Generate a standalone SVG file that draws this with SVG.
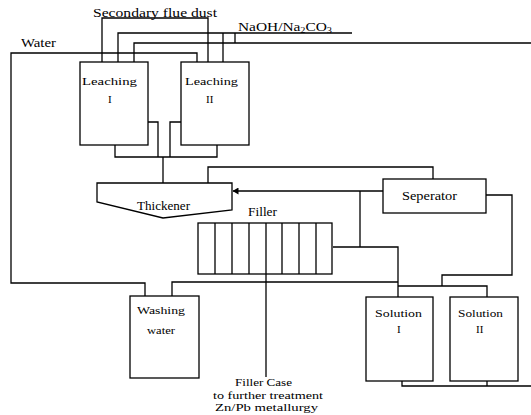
<svg xmlns="http://www.w3.org/2000/svg" width="531" height="415" viewBox="0 0 531 415">
<defs>
<marker id="arr" markerWidth="6" markerHeight="7" refX="5.5" refY="3.5" orient="auto" markerUnits="userSpaceOnUse">
<path d="M0,0 L6,3.5 L0,7 z" fill="#000"/>
</marker>
</defs>
<style>
.box{fill:#fff;stroke:#000;stroke-width:1.3}
.ln{fill:none;stroke:#000;stroke-width:1.3}
text{font-family:"Liberation Serif","Times New Roman",serif;fill:#000}
.s11{font-size:11px}
.s12{font-size:12px}
</style>
<rect width="531" height="415" fill="#fff"/>
<g id="connectors">
<path class="ln" d="M102,62 V18 H208 V62"/>
<path class="ln" d="M118,62 V33 H352"/>
<path class="ln" d="M223,33 V62"/>
<path class="ln" d="M134,62 V43 H531"/>
<path class="ln" d="M235,33 V43"/>
<path class="ln" d="M197,62 V53 H11 V283 H145 V296"/>
<path class="ln" d="M115,145 V157 H217 V145"/>
<path class="ln" d="M147,122 H158 V157"/>
<path class="ln" d="M181,122 H170 V157"/>
<path class="ln" d="M163,157 V183"/>
<path class="ln" d="M433,179 V167 H208 V183"/>
<path class="ln" d="M383,191 H233" marker-end="url(#arr)"/>
<path class="ln" d="M360,191 V247"/>
<path class="ln" d="M333,247 H398 V297"/>
<path class="ln" d="M172,296 V282 H398"/>
<path class="ln" d="M266,274 V377"/>
<path class="ln" d="M398,286 H487 V297"/>
<path class="ln" d="M486,195 H512 V275 H442 V286"/>
<path class="ln" d="M402,381 V386 H531"/>
<path class="ln" d="M487,381 V386"/>
<text class="s12" x="93" y="17" font-size="13" textLength="124" lengthAdjust="spacingAndGlyphs">Secondary flue dust</text>
<text class="s12" x="238" y="31" textLength="94" lengthAdjust="spacingAndGlyphs">NaOH/Na<tspan font-size="8" dy="2">2</tspan><tspan dy="-2">CO</tspan><tspan font-size="8" dy="2">3</tspan></text>
<text class="s12" x="21" y="47" textLength="35" lengthAdjust="spacingAndGlyphs">Water</text>
<text class="s11" x="235" y="386" textLength="57" lengthAdjust="spacingAndGlyphs">Filler Case</text>
<text class="s11" x="213" y="399" textLength="110" lengthAdjust="spacingAndGlyphs">to further treatment</text>
<text class="s11" x="215" y="411" textLength="103" lengthAdjust="spacingAndGlyphs">Zn/Pb metallurgy</text>
</g>
<g id="leaching1">
<rect class="box" x="80" y="62" width="68" height="83"/>
<text class="s11" x="82" y="85" textLength="55" lengthAdjust="spacingAndGlyphs">Leaching</text>
<text class="s11" x="108" y="103">I</text>
</g>
<g id="leaching2">
<rect class="box" x="181" y="62" width="68" height="83"/>
<text class="s11" x="185" y="85" textLength="53" lengthAdjust="spacingAndGlyphs">Leaching</text>
<text class="s11" x="206" y="103">II</text>
</g>
<g id="thickener">
<path class="box" d="M97,183 H232 V210 L163,218 L97,202 Z"/>
<text class="s12" x="137" y="210" textLength="53" lengthAdjust="spacingAndGlyphs">Thickener</text>
</g>
<g id="separator">
<rect class="box" x="383" y="179" width="103" height="34"/>
<text class="s12" x="402" y="200" textLength="55" lengthAdjust="spacingAndGlyphs">Seperator</text>
</g>
<g id="filter">
<text class="s12" x="248" y="216" textLength="29" lengthAdjust="spacingAndGlyphs">Filler</text>
<rect class="box" x="198" y="223" width="134" height="51"/>
<path class="ln" d="M215,223 V274 M232,223 V274 M249,223 V274 M266,223 V274 M282,223 V274 M299,223 V274 M316,223 V274"/>
</g>
<g id="washing">
<rect class="box" x="130" y="296" width="69" height="82"/>
<text class="s11" x="137" y="314" textLength="48" lengthAdjust="spacingAndGlyphs">Washing</text>
<text class="s11" x="147" y="334" textLength="28" lengthAdjust="spacingAndGlyphs">water</text>
</g>
<g id="solution1">
<rect class="box" x="366" y="297" width="67" height="84"/>
<text class="s11" x="375" y="317" textLength="47" lengthAdjust="spacingAndGlyphs">Solution</text>
<text class="s11" x="397" y="333">I</text>
</g>
<g id="solution2">
<rect class="box" x="450" y="297" width="68" height="84"/>
<text class="s11" x="458" y="317" textLength="45" lengthAdjust="spacingAndGlyphs">Solution</text>
<text class="s11" x="476" y="333">II</text>
</g>
</svg>
